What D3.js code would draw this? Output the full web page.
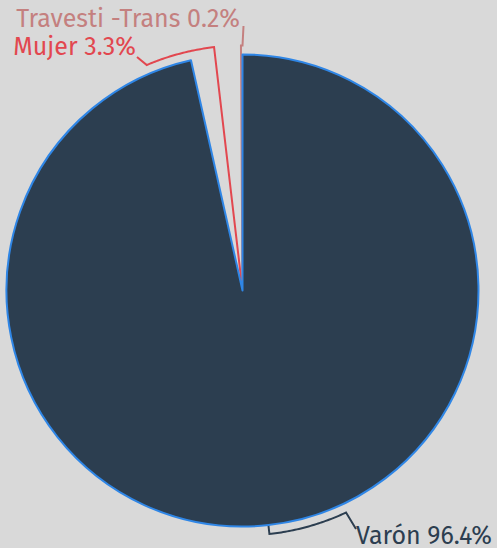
<!DOCTYPE html>
<html>
<head>
<meta charset="utf-8">
<script src="https://cdn.jsdelivr.net/npm/d3@7"></script>
<style>
  html, body { margin: 0; padding: 0; background: #d9d9d9; }
  svg { display: block; }
  text { font-family: "Fira Sans", "Noto Sans", sans-serif; font-size: 25px; }
</style>
</head>
<body>
<script>
// data
const categories = ['Varón', 'Mujer', 'Travesti -Trans'];
const values = [96.4, 3.3, 0.2];
const colors = ['#2c3e50', '#e2474f', '#c4807f'];

const width = 497, height = 548;
const cx = 242.5, cy = 290.5, radius = 236;
const lineR = radius + 9;

// label layout: angle where the leader leaves the outer arc, end point, text anchor
const labelAngle = [155 * Math.PI / 180, -23 * Math.PI / 180, 0];
const labelEnd = [[356, 529], [137, 57], [243.5, 26]];
const textPos = [[356, 544, 'start'], [136, 55, 'end'], [240, 27, 'end']];

const svg = d3.select('body')
    .append('svg')
    .attr('width', width)
    .attr('height', height);

const g = svg.append('g').attr('transform', `translate(${cx},${cy})`);

const pie = d3.pie().sort(null).value(d => d.value);
const arcs = pie(categories.map((c, i) => ({ cat: c, value: values[i], i })));

const arc = d3.arc().innerRadius(0).outerRadius(radius);

const polar = (r, a) => [r * Math.sin(a), -r * Math.cos(a)];

// leader lines (under slices)
arcs.forEach(d => {
    const i = d.data.i;
    const mid = (d.startAngle + d.endAngle) / 2;
    let a2 = labelAngle[i];
    while (a2 - mid > Math.PI) a2 -= 2 * Math.PI;
    while (a2 - mid < -Math.PI) a2 += 2 * Math.PI;
    const pts = [[0, 0], polar(lineR, mid)];
    const steps = 40;
    for (let k = 1; k <= steps; k++) {
        pts.push(polar(lineR, mid + (a2 - mid) * k / steps));
    }
    pts.push([labelEnd[i][0] - cx, labelEnd[i][1] - cy]);
    g.append('path')
        .attr('d', d3.line()(pts))
        .attr('fill', 'none')
        .attr('stroke', colors[i])
        .attr('stroke-width', 2);
});

// slices
g.selectAll('path.slice')
    .data(arcs)
    .join('path')
        .attr('class', 'slice')
        .attr('d', arc)
        .attr('fill', d => d.data.i === 0 ? colors[0] : 'none')
        .attr('stroke', d => d.data.i === 0 ? '#2f86e6' : 'none')
        .attr('stroke-width', 2)
        .attr('stroke-linejoin', 'round');

// labels
svg.selectAll('text.label')
    .data(arcs)
    .join('text')
        .attr('class', 'label')
        .attr('x', d => textPos[d.data.i][0])
        .attr('y', d => textPos[d.data.i][1])
        .attr('text-anchor', d => textPos[d.data.i][2])
        .attr('fill', d => colors[d.data.i])
        .text(d => `${d.data.cat} ${d.data.value}%`);
</script>
</body>
</html>
